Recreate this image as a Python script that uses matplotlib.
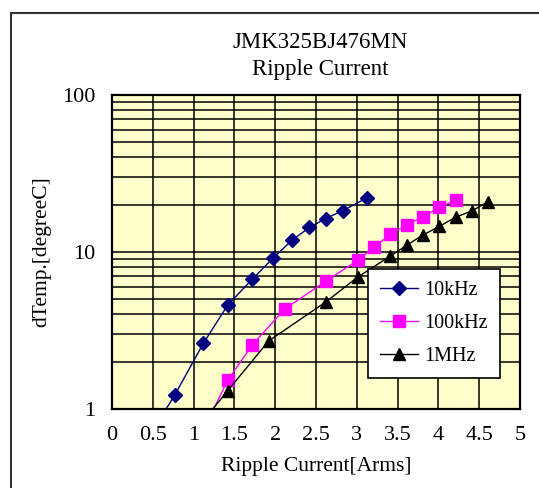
import numpy as np
import matplotlib.pyplot as plt
from matplotlib.patches import Rectangle
from matplotlib.ticker import FixedLocator, NullFormatter

plt.rcParams['font.family'] = ['Liberation Serif', 'DejaVu Serif']

# Ripple current [Arms] vs temperature rise [degC]
# (first point of each series lies below the axis and is only there for the line)
i_10k = [0.5, 0.77, 1.12, 1.42, 1.72, 1.97, 2.21, 2.42, 2.62, 2.83, 3.12]
t_10k = [0.73, 1.23, 2.62, 4.6, 6.7, 9.1, 11.9, 14.3, 16.3, 18.3, 22.0]

i_100k = [1.0, 1.42, 1.72, 2.12, 2.62, 3.02, 3.21, 3.41, 3.61, 3.81, 4.01, 4.21]
t_100k = [0.55, 1.53, 2.56, 4.34, 6.5, 8.9, 10.7, 12.9, 14.8, 16.7, 19.2, 21.3]

i_1m = [1.0, 1.42, 1.92, 2.62, 3.01, 3.41, 3.61, 3.81, 4.01, 4.21, 4.41, 4.61]
t_1m = [0.71, 1.31, 2.71, 4.8, 6.9, 9.4, 11.0, 12.8, 14.5, 16.6, 18.2, 20.9]

x_ticks = [0, 0.5, 1, 1.5, 2, 2.5, 3, 3.5, 4, 4.5, 5]
x_labels = ['0', '0.5', '1', '1.5', '2', '2.5', '3', '3.5', '4', '4.5', '5']
y_ticks = [1, 10, 100]
y_labels = ['1', '10', '100']

fig = plt.figure(figsize=(5.39, 4.88), dpi=100)
ax = fig.add_axes([112/539, 1 - 409/488, 408/539, 314.3/488])
ax.set_facecolor('#FFFFCC')

ax.plot(i_10k, t_10k, color='#000080', lw=1.0, marker='D', ms=7, label='10kHz')
ax.plot(i_100k, t_100k, color='#FF00FF', lw=1.0, marker='s', ms=9, label='100kHz')
ax.plot(i_1m, t_1m, color='black', lw=1.0, marker='^', ms=9, label='1MHz')

ax.set_yscale('log')
ax.set_xlim(0, 5)
ax.set_ylim(1, 100)

ax.set_xticks(x_ticks)
ax.set_xticklabels(x_labels)
ax.set_yticks(y_ticks)
ax.set_yticklabels(y_labels)
minor = [m * d for d in (1, 10) for m in range(2, 10)]
ax.yaxis.set_minor_locator(FixedLocator(minor))
ax.yaxis.set_minor_formatter(NullFormatter())
ax.tick_params(which='both', length=0, labelsize=16, pad=12)

ax.grid(True, which='both', color='black', lw=1.1)
ax.set_axisbelow(True)
for s in ax.spines.values():
    s.set_linewidth(1.6)

ax.set_xlabel('Ripple Current[Arms]', fontsize=15.5, labelpad=9)
ax.set_ylabel('dTemp.[degreeC]', fontsize=15.5, labelpad=8)

fig.text(320/539, 1 - 42/488, 'JMK325BJ476MN', ha='center', va='center', fontsize=16.5)
fig.text(320/539, 1 - 69/488, 'Ripple Current', ha='center', va='center', fontsize=16.5)

leg = ax.legend(loc='upper left', bbox_to_anchor=(0.627, 0.447), borderaxespad=0,
                fontsize=14.5, frameon=True, fancybox=False, framealpha=1,
                edgecolor='black', handlelength=1.9, labelspacing=0.7,
                borderpad=0.6, handletextpad=0.3)
leg.get_frame().set_linewidth(1.2)

# outer chart frame (cut off at right and bottom)
fig.patches.append(Rectangle((10.5/539, -0.2), 1.5, 1.2 - 12.5/488, transform=fig.transFigure,
                             fill=False, edgecolor='#333333', lw=1.5, clip_on=False))

fig.savefig('out.png', dpi=100)
